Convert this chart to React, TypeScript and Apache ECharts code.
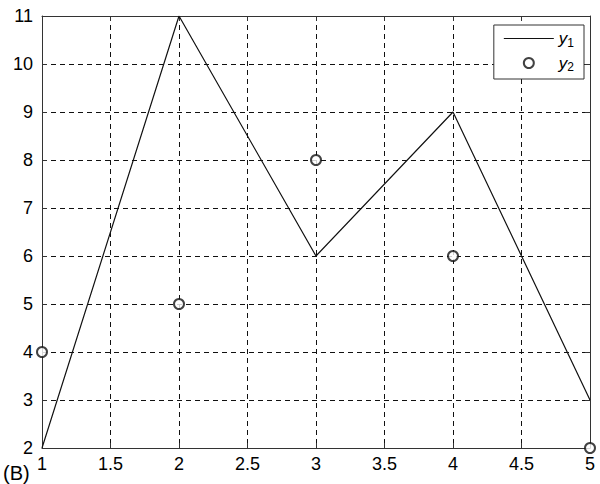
import { useEffect, useRef } from 'react';
import * as echarts from 'echarts';

const xValues = [1, 2, 3, 4, 5];
const y1Values = [2, 11, 6, 9, 3];
const y2Values = [4, 5, 8, 6, 2];

const FONT = '"Liberation Sans", Arial, sans-serif';
const AXIS_COLOR = '#333';
const INK = '#111';

const App = () => {
  const chartRef = useRef<HTMLDivElement>(null);

  useEffect(() => {
    if (!chartRef.current) return;
    const chart = echarts.init(chartRef.current, undefined, { renderer: 'svg' });

    const legendRich = {
      i: { fontFamily: FONT, fontStyle: 'italic', fontSize: 17, color: '#000' },
      s: { fontFamily: FONT, fontSize: 12, color: '#000', padding: [8, 0, 0, 0] }
    };

    const option: echarts.EChartsOption = {
      animation: false,
      backgroundColor: '#fff',
      textStyle: { fontFamily: FONT },
      grid: { left: 42, right: 10, top: 16, bottom: 36, containLabel: false },
      xAxis: [
        {
          type: 'value',
          min: 1,
          max: 5,
          interval: 0.5,
          axisLine: { show: true, onZero: false, lineStyle: { color: AXIS_COLOR, width: 1 } },
          axisTick: { show: true, inside: true, length: 5, lineStyle: { color: AXIS_COLOR } },
          axisLabel: { color: '#000', fontSize: 18, margin: 7, fontFamily: FONT },
          splitLine: { show: true, lineStyle: { color: INK, type: [5, 4], width: 1 } }
        },
        {
          type: 'value',
          position: 'top',
          min: 1,
          max: 5,
          interval: 0.5,
          axisLine: { show: true, onZero: false, lineStyle: { color: AXIS_COLOR, width: 1 } },
          axisTick: { show: true, inside: true, length: 5, lineStyle: { color: AXIS_COLOR } },
          axisLabel: { show: false },
          splitLine: { show: false }
        }
      ],
      yAxis: [
        {
          type: 'value',
          min: 2,
          max: 11,
          interval: 1,
          axisLine: { show: true, onZero: false, lineStyle: { color: AXIS_COLOR, width: 1 } },
          axisTick: { show: true, inside: true, length: 5, lineStyle: { color: AXIS_COLOR } },
          axisLabel: { color: '#000', fontSize: 18, margin: 9, fontFamily: FONT },
          splitLine: { show: true, lineStyle: { color: INK, type: [5, 4], width: 1 } }
        },
        {
          type: 'value',
          position: 'right',
          min: 2,
          max: 11,
          interval: 1,
          axisLine: { show: true, onZero: false, lineStyle: { color: AXIS_COLOR, width: 1 } },
          axisTick: { show: true, inside: true, length: 5, lineStyle: { color: AXIS_COLOR } },
          axisLabel: { show: false },
          splitLine: { show: false }
        }
      ],
      legend: {
        orient: 'vertical',
        right: 16,
        top: 25,
        backgroundColor: '#fff',
        borderColor: '#333',
        borderWidth: 1,
        borderRadius: 0,
        padding: [5, 10, 6, 10],
        itemWidth: 50,
        itemHeight: 10,
        itemGap: 6,
        symbolKeepAspect: true,
        data: [
          { name: 'y1', icon: 'path://M0 0H50V1.2H0Z', itemStyle: { color: INK, borderWidth: 0 } },
          { name: 'y2', icon: 'emptyCircle', itemStyle: { borderWidth: 1 } }
        ],
        formatter: (name: string) => `{i|y}{s|${name.slice(1)}}`,
        textStyle: { rich: legendRich, padding: [0, 0, 0, 0] }
      },
      series: [
        {
          name: 'y1',
          type: 'line',
          data: xValues.map((x, i) => [x, y1Values[i]]),
          symbol: 'none',
          lineStyle: { color: INK, width: 1.2 },
          itemStyle: { color: INK }
        },
        {
          name: 'y2',
          type: 'scatter',
          data: xValues.map((x, i) => [x, y2Values[i]]),
          symbol: 'emptyCircle',
          symbolSize: 10,
          clip: false,
          itemStyle: { color: INK, borderColor: INK, borderWidth: 1 }
        }
      ],
      graphic: [
        {
          type: 'text',
          left: 3,
          top: 463,
          style: { text: '(B)', fontSize: 20, fontFamily: FONT, fill: '#000' }
        }
      ]
    };

    chart.setOption(option);
    return () => {
      chart.dispose();
    };
  }, []);

  return (
    <div
      ref={chartRef}
      style={{ position: 'fixed', left: 0, top: 0, width: 600, height: 484 }}
    />
  );
};

export default App;
